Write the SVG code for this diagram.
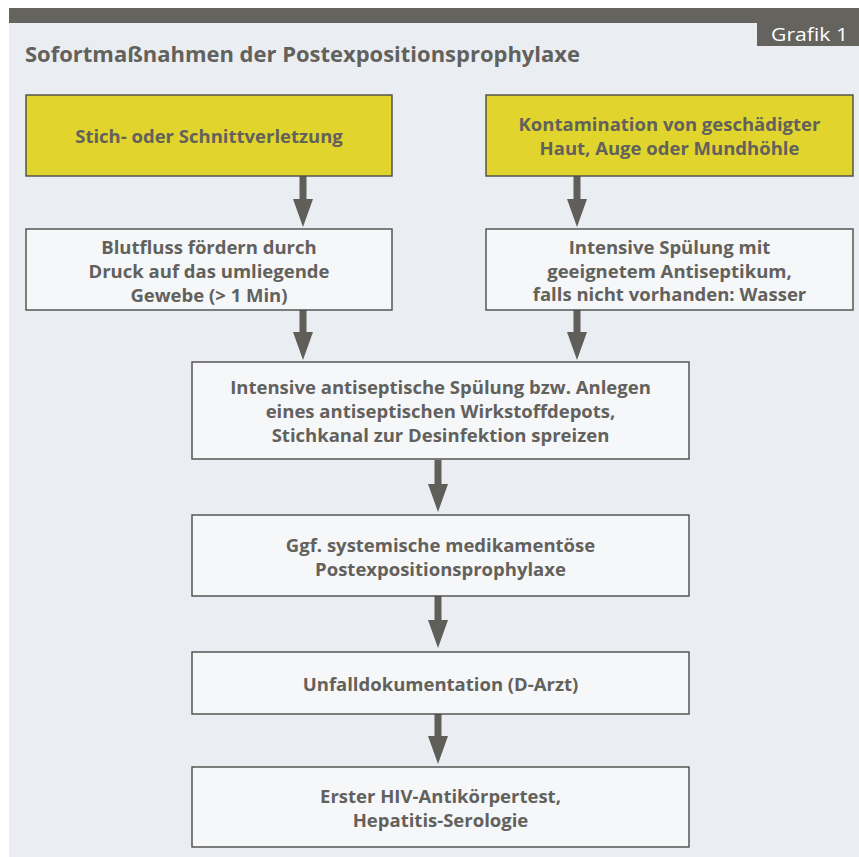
<svg xmlns="http://www.w3.org/2000/svg" width="859" height="857" viewBox="0 0 859 857">
<style>
.t{font-family:"Open Sans",Lato,"DejaVu Sans",sans-serif;font-weight:bold;font-size:18.5px;fill:#62615c;text-anchor:middle}
.box{fill:#f6f7f9;stroke:#4b4b49;stroke-width:1.4}
.yel{fill:#e1d42d;stroke:#4b4b49;stroke-width:1.4}
.arr{stroke:#5f5e59;stroke-width:7;fill:none}
</style>
<defs>
<marker id="ah" markerUnits="userSpaceOnUse" markerWidth="28" markerHeight="20" refX="0" refY="10" orient="auto" viewBox="0 0 28 20">
<path d="M0,0 L28,10 L0,20 Z" fill="#5f5e59"/>
</marker>
</defs>
<rect x="0" y="0" width="859" height="857" fill="#ffffff"/>
<rect x="9" y="8" width="850" height="849" fill="#eaeef2"/>
<rect x="9" y="8" width="850" height="15" fill="#64635e"/>
<g id="badge">
<rect x="757" y="23" width="102" height="23" fill="#64635e"/>
<text x="771" y="41" font-family="'Open Sans',Lato,sans-serif" font-size="19" fill="#ffffff" textLength="77" lengthAdjust="spacingAndGlyphs">Grafik 1</text>
</g>
<text x="25" y="62" font-family="'Open Sans',Lato,sans-serif" font-weight="bold" font-size="21" fill="#62615c" textLength="555" lengthAdjust="spacingAndGlyphs">Sofortmaßnahmen der Postexpositionsprophylaxe</text>
<g id="connectors">
<line class="arr" x1="303" y1="176" x2="303" y2="199" marker-end="url(#ah)"/>
<line class="arr" x1="577" y1="176" x2="577" y2="199" marker-end="url(#ah)"/>
<line class="arr" x1="303" y1="310" x2="303" y2="332" marker-end="url(#ah)"/>
<line class="arr" x1="577" y1="310" x2="577" y2="332" marker-end="url(#ah)"/>
<line class="arr" x1="438" y1="460" x2="438" y2="484" marker-end="url(#ah)"/>
<line class="arr" x1="438" y1="596" x2="438" y2="620" marker-end="url(#ah)"/>
<line class="arr" x1="438" y1="714" x2="438" y2="736" marker-end="url(#ah)"/>
</g>
<g id="n1">
<rect class="yel" x="26" y="95" width="366" height="81"/>
<text class="t" x="209" y="143">Stich- oder Schnittverletzung</text>
</g>
<g id="n2">
<rect class="yel" x="486" y="95" width="367" height="81"/>
<text class="t" x="669.5" y="131">Kontamination von geschädigter</text>
<text class="t" x="669.5" y="154.5">Haut, Auge oder Mundhöhle</text>
</g>
<g id="n3">
<rect class="box" x="26" y="229" width="366" height="81"/>
<text class="t" x="209" y="254">Blutfluss fördern durch</text>
<text class="t" x="209" y="278">Druck auf das umliegende</text>
<text class="t" x="209" y="302">Gewebe (&gt; 1 Min)</text>
</g>
<g id="n4">
<rect class="box" x="486" y="229" width="367" height="81"/>
<text class="t" x="669.5" y="254">Intensive Spülung mit</text>
<text class="t" x="669.5" y="277.5">geeignetem Antiseptikum,</text>
<text class="t" x="669.5" y="301">falls nicht vorhanden: Wasser</text>
</g>
<g id="n5">
<rect class="box" x="192" y="362" width="497" height="97"/>
<text class="t" x="440.5" y="394">Intensive antiseptische Spülung bzw. Anlegen</text>
<text class="t" x="440.5" y="418">eines antiseptischen Wirkstoffdepots,</text>
<text class="t" x="440.5" y="442">Stichkanal zur Desinfektion spreizen</text>
</g>
<g id="n6">
<rect class="box" x="192" y="515" width="497" height="81"/>
<text class="t" x="440.5" y="552">Ggf. systemische medikamentöse</text>
<text class="t" x="440.5" y="576">Postexpositionsprophylaxe</text>
</g>
<g id="n7">
<rect class="box" x="192" y="652" width="497" height="62"/>
<text class="t" x="440.5" y="691">Unfalldokumentation (D-Arzt)</text>
</g>
<g id="n8">
<rect class="box" x="192" y="767" width="497" height="80"/>
<text class="t" x="440.5" y="803">Erster HIV-Antikörpertest,</text>
<text class="t" x="440.5" y="827">Hepatitis-Serologie</text>
</g>
</svg>
